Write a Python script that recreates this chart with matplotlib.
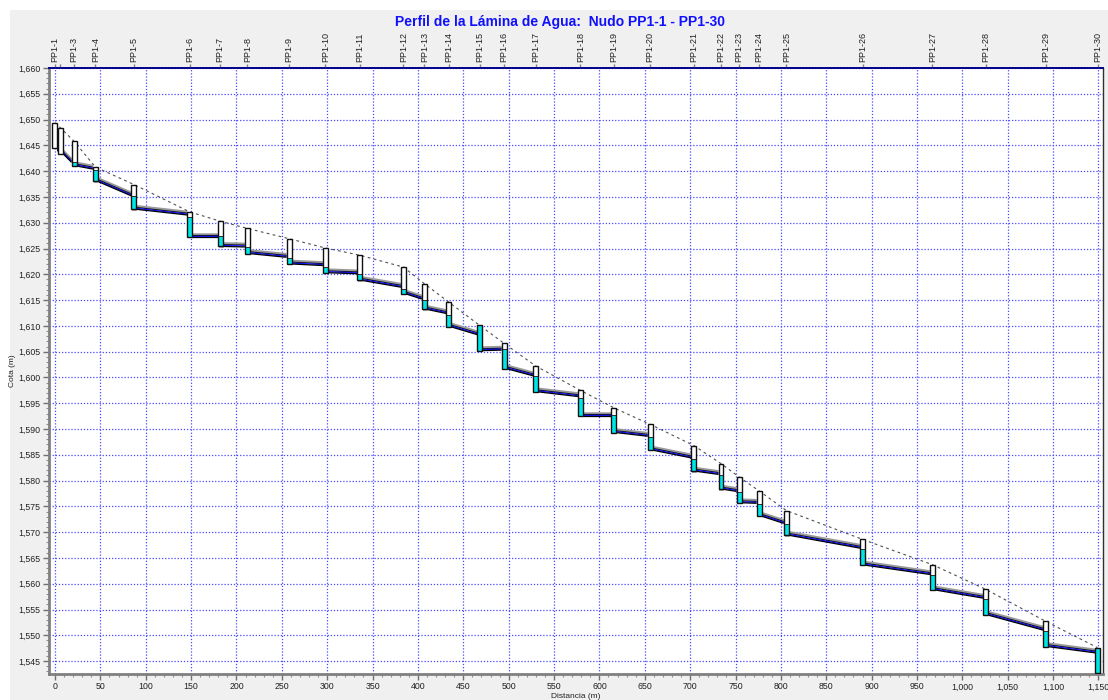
import matplotlib
matplotlib.use("Agg")
import matplotlib.pyplot as plt
from matplotlib.patches import Rectangle
from matplotlib.ticker import FuncFormatter, MultipleLocator

# ---------------- data ----------------
nodes = ["PP1-%d" % i for i in range(1, 31)]
hidden_labels = ["PP1-2"]
dist = [0, 6, 21, 44.5, 87, 148.5, 182, 212, 258, 298, 336, 384, 407, 434, 468,
        495, 530, 579, 616, 656, 704, 734, 754, 776, 806, 890, 967, 1026, 1092, 1149]
ground = [1649.4, 1648.4, 1645.8, 1640.8, 1637.4, 1632.1, 1630.3, 1628.9, 1626.9, 1625.1,
          1623.7, 1621.4, 1618.2, 1614.6, 1610.1, 1606.6, 1602.2, 1597.5, 1594.1, 1590.9,
          1586.8, 1583.3, 1580.7, 1578.0, 1574.2, 1568.6, 1563.7, 1558.9, 1552.7, 1547.6]
invert = [1644.5, 1643.4, 1641.0, 1638.0, 1632.6, 1627.3, 1625.4, 1624.0, 1622.0, 1620.3,
          1618.8, 1616.2, 1613.2, 1609.8, 1605.2, 1601.7, 1597.2, 1592.6, 1589.3, 1585.9,
          1581.8, 1578.3, 1575.7, 1573.1, 1569.4, 1563.6, 1558.8, 1553.9, 1547.8, 1542.6]
water = [1644.5, 1643.4, 1641.8, 1640.2, 1635.1, 1631.1, 1627.4, 1625.3, 1623.2, 1621.5,
         1620.0, 1617.2, 1615.1, 1612.2, 1610.1, 1605.6, 1600.3, 1596.1, 1592.8, 1588.5,
         1584.2, 1581.0, 1577.7, 1575.5, 1571.5, 1566.7, 1561.6, 1557.0, 1550.8, 1547.6]
# downstream (inlet) invert of each pipe i -> i+1
pipe_in = [1643.8, 1641.7, 1640.4, 1635.2, 1631.5, 1627.3, 1625.3, 1623.3, 1621.7, 1620.1,
           1617.5, 1615.2, 1612.4, 1608.3, 1605.3, 1600.3, 1596.3, 1592.6, 1588.6, 1584.4,
           1581.2, 1577.9, 1575.6, 1571.7, 1566.9, 1561.8, 1557.2, 1551.0, 1546.6]

title = "Perfil de la Lámina de Agua:  Nudo PP1-1 - PP1-30"
xlabel = "Distancia (m)"
ylabel = "Cota (m)"

# ---------------- style ----------------
plt.rcParams['font.family'] = ['Liberation Sans', 'DejaVu Sans']
W, H = 1108, 700
fig = plt.figure(figsize=(W / 100, H / 100), dpi=100, facecolor='white')
fig.patches.append(Rectangle((10 / W, 0), 1 - 10 / W, 1 - 10 / H, transform=fig.transFigure,
                             facecolor='#f0f0f0', edgecolor='none', zorder=-10))

ax = fig.add_axes([49 / W, (H - 674) / H, (1103 - 49) / W, (674 - 68) / H])
ax.set_facecolor('white')
ax.set_xlim(-6.6, 1155)
ax.set_ylim(1542.5, 1660)

mh_w = 5.5
cyan = '#00e6e6'

# pipes
for i in range(len(dist) - 1):
    xs = [dist[i] + mh_w / 2, dist[i + 1] - mh_w / 2]
    ys = [invert[i], pipe_in[i]]
    ax.plot(xs, [y + 0.6 for y in ys], color='#9a9a9a', lw=1.8, zorder=3, solid_capstyle='butt')
    ax.plot(xs, [y + 0.36 for y in ys], color='#101010', lw=0.8, zorder=4, solid_capstyle='butt')
    ax.plot(xs, [y + 0.18 for y in ys], color='#1414ff', lw=1.0, zorder=4, solid_capstyle='butt')
    ax.plot(xs, ys, color='black', lw=0.9, zorder=4, solid_capstyle='butt')

# ground line
ax.plot(dist, ground, color='#505050', lw=0.8, ls=(0, (2.5, 3)), zorder=3)

# manholes
for x, g, b, wl in zip(dist, ground, invert, water):
    x0 = x - mh_w / 2
    ax.add_patch(Rectangle((x0 + 1.0, b - 0.25), mh_w, g - b, facecolor='#a8a8a8',
                           edgecolor='none', zorder=5))
    ax.add_patch(Rectangle((x0, b), mh_w, g - b, facecolor='white', edgecolor='none', zorder=6))
    if wl > b:
        ax.add_patch(Rectangle((x0, b), mh_w, wl - b, facecolor=cyan, edgecolor='none', zorder=7))
        ax.plot([x0, x0 + mh_w], [wl, wl], color='#303030', lw=0.7, zorder=8)
    ax.add_patch(Rectangle((x0, b), mh_w, g - b, facecolor='none', edgecolor='#101010',
                           lw=1.0, zorder=9))

# grid & ticks
ax.xaxis.set_major_locator(MultipleLocator(50))
ax.xaxis.set_minor_locator(MultipleLocator(10))
ax.yaxis.set_major_locator(MultipleLocator(5))
ax.yaxis.set_minor_locator(MultipleLocator(1))
fmt = FuncFormatter(lambda v, p: "{:,.0f}".format(v))
ax.xaxis.set_major_formatter(fmt)
ax.yaxis.set_major_formatter(fmt)
ax.grid(True, which='major', color='#4848ff', ls=(0, (1, 1.5)), lw=0.9)
ax.set_axisbelow(True)
ax.tick_params(axis='both', which='major', labelsize=6.3, colors='#707070', labelcolor='#222222',
               length=4, width=1, pad=2)
ax.tick_params(axis='both', which='minor', colors='#909090', length=2, width=0.8)
ax.tick_params(axis='x', which='both', top=False)

for s in ['left', 'bottom']:
    ax.spines[s].set_color('#808080')
    ax.spines[s].set_linewidth(2)
ax.spines['right'].set_color('#303030')
ax.spines['right'].set_linewidth(1)
ax.spines['top'].set_color('#00008b')
ax.spines['top'].set_linewidth(1.2)

ax.set_xlabel(xlabel, fontsize=6, color='#222222', labelpad=1)
ax.set_ylabel(ylabel, fontsize=6, color='#222222', labelpad=2)

# top node axis
ax2 = ax.twiny()
ax2.set_xlim(ax.get_xlim())
ax2.set_xticks(dist)
ax2.set_xticklabels(['' if n in hidden_labels else n for n in nodes], rotation=90,
                    fontsize=6.5, color='#222222')
ax2.tick_params(axis='x', length=3, width=1, colors='#808080', labelcolor='#222222', pad=1)
for s in ['left', 'bottom', 'right']:
    ax2.spines[s].set_visible(False)
ax2.spines['top'].set_color('#00008b')
ax2.spines['top'].set_linewidth(1.2)

fig.text(560 / W, 1 - 22 / H, title, ha='center', va='center', fontsize=10,
         fontweight='bold', color='#1010ff')

fig.savefig('out.png', dpi=100, facecolor=fig.get_facecolor())
